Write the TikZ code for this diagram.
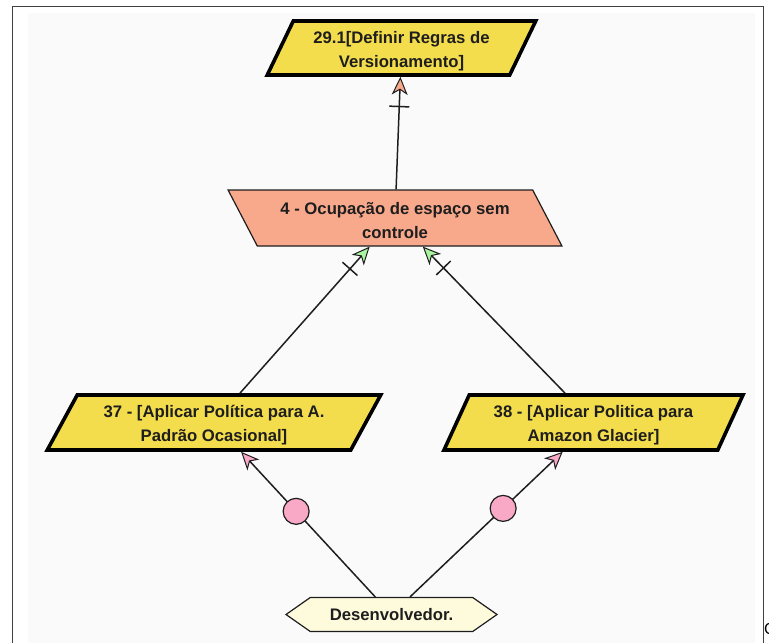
\documentclass[tikz,border=0pt]{standalone}
\usepackage{fontspec}
\setmainfont{Liberation Sans}
\usetikzlibrary{shapes.geometric,shapes.symbols,arrows.meta}
\definecolor{ruleyellow}{HTML}{F4DD4C}
\definecolor{risksalmon}{HTML}{F9A98B}
\definecolor{actorcream}{HTML}{FEFBDD}
\definecolor{tippink}{HTML}{F9A8C6}
\definecolor{tipgreen}{HTML}{A8F5A0}
\definecolor{inkdark}{HTML}{1E1E1E}
\definecolor{paper}{HTML}{FAFAFA}
% a tall invisible strut that sets the two-line labels a little lower
\newcommand{\labelstrut}{\rule{0pt}{18pt}}
\tikzset{
  lbl/.style={font=\bfseries\fontsize{16.7}{24}\selectfont, text=inkdark, align=center},
  para/.style={lbl, trapezium, trapezium stretches=true, inner sep=0pt},
  rulebox/.style={para, draw=black, line width=3.6pt, fill=ruleyellow},
  riskbox/.style={para, draw=inkdark, line width=1.2pt, fill=risksalmon},
  actor/.style={lbl, signal, signal to=west and east, signal pointer angle=70,
    draw=inkdark, line width=1.2pt, fill=actorcream, inner sep=0pt,
    minimum width=211pt, minimum height=34pt},
  link/.style={draw=inkdark, line width=1.5pt},
  mitigates/.style={link, -{Bar[width=20pt,line width=1.5pt,sep=11pt]Stealth[length=18pt,width=16pt,inset=5pt,fill=#1,line width=1pt]}},
  performs/.style={link, -{Stealth[length=18pt,width=16pt,inset=5pt,fill=tippink,line width=1pt]}},
  knot/.style={circle, draw=inkdark, line width=1.2pt, fill=tippink, minimum size=26pt, inner sep=0pt},
}
\begin{document}
\begin{tikzpicture}[x=1pt,y=-1pt]
  \useasboundingbox (0,0) rectangle (769,643);
  % page frame
  \fill[white] (0,0) rectangle (769,643);
  \fill[paper] (28,13) rectangle (755,643);
  \draw[line width=1pt, black!75] (12,643) -- (12,6) -- (763,6) -- (763,643);
  \node[font=\fontsize{16}{16}\selectfont, anchor=west, inner sep=0pt] (pagec) at (764,629) {C};

  % nodes
  \node[rulebox, trapezium left angle=65, trapezium right angle=115,
        minimum width=269pt, minimum height=54pt] (versioning) at (401.5,48)
        {\labelstrut 29.1[Definir Regras de\\Versionamento]};
  \node[riskbox, trapezium left angle=120, trapezium right angle=60,
        minimum width=335pt, minimum height=56pt] (space) at (395,218)
        {\labelstrut 4 - Ocupação de espaço sem\\controle};
  \node[rulebox, trapezium left angle=62, trapezium right angle=118,
        minimum width=334pt, minimum height=55pt] (occasional) at (214,422.5)
        {\labelstrut 37 - [Aplicar Política para A.\\Padrão Ocasional]};
  \node[rulebox, trapezium left angle=66, trapezium right angle=114,
        minimum width=299pt, minimum height=55pt] (glacier) at (593.5,422.5)
        {\labelstrut 38 - [Aplicar Politica para\\Amazon Glacier]};
  \node[actor] (dev) at (391.5,614.5) {Desenvolvedor.};

  % connectors
  \draw[mitigates=risksalmon] (space) -- (versioning);
  \draw[mitigates=tipgreen] (occasional) -- (space);
  \draw[mitigates=tipgreen] (glacier) -- (space);
  \draw[performs] (dev) -- node[knot, pos=0.59] (devocc) {} (occasional);
  \draw[performs] (dev) -- node[knot, pos=0.61] (devgla) {} (glacier);
\end{tikzpicture}
\end{document}
